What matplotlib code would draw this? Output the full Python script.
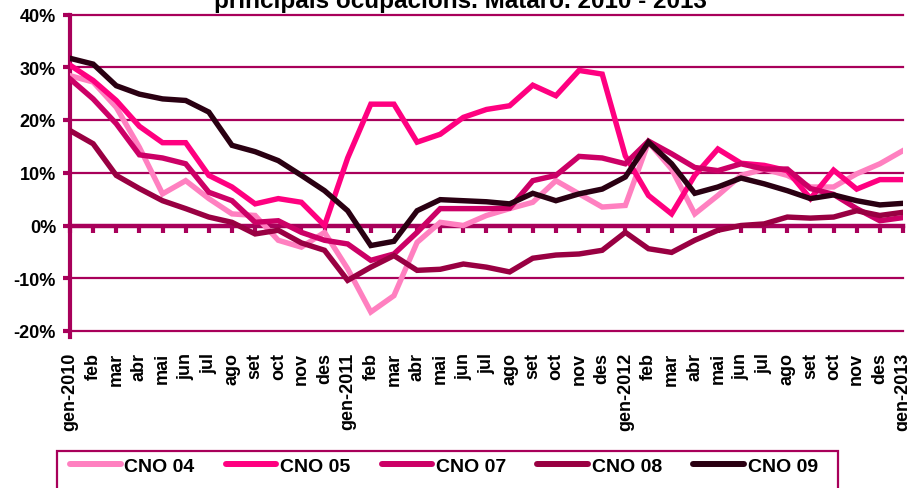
import matplotlib
matplotlib.use("Agg")
import matplotlib.pyplot as plt
from matplotlib.patches import Rectangle

plt.rcParams['font.family'] = ['Liberation Sans', 'DejaVu Sans']
plt.rcParams['font.weight'] = 'bold'

# monthly labels gen-2010 .. gen-2013
months = ["gen-2010", "feb", "mar", "abr", "mai", "jun", "jul", "ago", "set", "oct", "nov", "des",
          "gen-2011", "feb", "mar", "abr", "mai", "jun", "jul", "ago", "set", "oct", "nov", "des",
          "gen-2012", "feb", "mar", "abr", "mai", "jun", "jul", "ago", "set", "oct", "nov", "des",
          "gen-2013"]

cno04 = [28.4, 27.2, 22.4, 14.8, 6.0, 8.5, 5.1, 2.2, 1.9, -2.8, -4.1, -1.3,
         -8.2, -16.4, -13.3, -3.2, 0.6, 0.0, 1.9, 3.2, 4.4, 8.5, 6.0, 3.5,
         3.8, 15.8, 10.7, 2.2, 5.7, 9.5, 10.7, 9.5, 7.3, 7.3, 9.8, 11.7, 14.2]
cno05 = [30.4, 27.5, 23.7, 18.8, 15.7, 15.7, 9.5, 7.3, 4.1, 5.1, 4.4, 0.0,
         12.8, 23.0, 23.0, 15.8, 17.3, 20.5, 22.0, 22.7, 26.6, 24.6, 29.4, 28.7,
         13.2, 5.7, 2.2, 9.5, 14.5, 11.8, 11.4, 10.4, 5.1, 10.5, 6.9, 8.7, 8.7]
cno07 = [27.8, 24.0, 19.3, 13.4, 12.8, 11.7, 6.3, 4.7, 0.6, 0.9, -1.3, -2.8,
         -3.5, -6.6, -5.4, -1.3, 3.2, 3.2, 3.2, 3.3, 8.5, 9.5, 13.1, 12.8,
         11.7, 16.0, 13.6, 11.0, 10.4, 11.7, 10.7, 10.7, 7.0, 5.9, 3.2, 0.9, 1.5]
cno08 = [18.0, 15.5, 9.5, 7.0, 4.7, 3.2, 1.6, 0.6, -1.6, -0.9, -3.3, -4.7,
         -10.4, -7.9, -5.7, -8.5, -8.3, -7.3, -7.9, -8.8, -6.2, -5.6, -5.4, -4.7,
         -1.3, -4.4, -5.1, -2.8, -0.9, 0.0, 0.3, 1.6, 1.4, 1.6, 2.8, 1.9, 2.5]
cno09 = [31.7, 30.6, 26.5, 24.9, 24.0, 23.7, 21.5, 15.2, 14.0, 12.3, 9.5, 6.6,
         2.8, -3.8, -3.0, 2.8, 4.9, 4.7, 4.5, 4.1, 6.1, 4.7, 6.0, 6.9,
         9.2, 15.8, 11.7, 6.1, 7.3, 9.0, 7.9, 6.6, 5.1, 5.8, 4.7, 3.9, 4.2]

series = [("CNO 04", cno04, "#FF80C0"),
          ("CNO 05", cno05, "#FF0080"),
          ("CNO 07", cno07, "#CC0066"),
          ("CNO 08", cno08, "#990042"),
          ("CNO 09", cno09, "#2A0012")]

axis_col = "#A8005A"

fig = plt.figure(figsize=(9.07, 4.89), dpi=100)
W, H = 907, 489
ax = fig.add_axes([70 / W, (H - 332) / H, 833 / W, 316.5 / H])

x = list(range(len(months)))
for name, vals, col in series:
    ax.plot(x, vals, color=col, lw=3.9, solid_joinstyle='miter', label=name, zorder=3)

ax.set_xlim(0, 36)
ax.set_ylim(-20, 40)
yt = [-20, -10, 0, 10, 20, 30, 40]
ax.set_yticks(yt)
ax.set_yticklabels([f"{v}%" for v in yt], fontsize=13, fontweight='bold')
for v in [-20, -10, 10, 20, 30, 40]:
    ax.axhline(v, color=axis_col, lw=1.6, zorder=1, clip_on=False)

for s in ['top', 'right', 'bottom']:
    ax.spines[s].set_visible(False)
ax.spines['left'].set_color(axis_col)
ax.spines['left'].set_linewidth(3)
ax.spines['left'].set_bounds(-21.2, 40)
ax.tick_params(axis='y', direction='out', length=5, width=3, color=axis_col, pad=5)

# month labels at the bottom
ax.set_xticks(x)
ax.set_xticklabels(months, rotation=90, fontsize=13, fontweight='bold', va='top', ha='center')
ax.tick_params(axis='x', length=0, pad=15)

# zero line with downward ticks (0% sits at 1/3 of the axis height)
zero = ax.secondary_xaxis(1 / 3)
zero.set_xticks(x)
zero.set_xticklabels([])
zero.spines['bottom'].set_color(axis_col)
zero.spines['bottom'].set_linewidth(3.2)
zero.tick_params(axis='x', direction='out', length=5, width=3, color=axis_col)

fig.text(460 / W, 1 - 8 / H, "principals ocupacions. Mataró. 2010 - 2013",
         ha='center', va='baseline', fontsize=17.5, fontweight='bold')

# legend
fig.patches.append(Rectangle((57 / W, -0.05), (838 - 57) / W, (H - 452) / H + 0.05,
                             transform=fig.transFigure, fill=False, edgecolor=axis_col, lw=1.6))
leg_handles = []
for name, vals, col in series:
    h, = ax.plot([], [], color=col, lw=4.3, solid_capstyle='round', label=name)
    leg_handles.append(h)
fig.legend(handles=leg_handles, loc='upper left', bbox_to_anchor=(70 / W, 1 - 458 / H),
           ncol=5, frameon=False, handlelength=2.6, handletextpad=0.2,
           columnspacing=1.6, borderaxespad=0, borderpad=0, prop={'weight': 'bold', 'size': 14})

fig.savefig("out.png", dpi=100)
